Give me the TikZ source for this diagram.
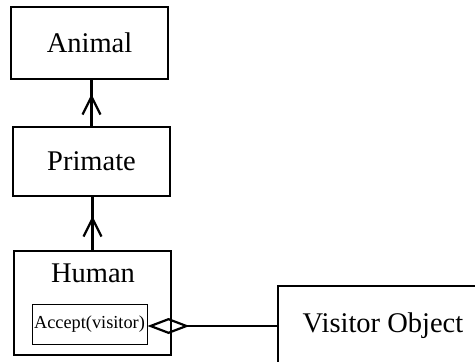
\documentclass[tikz,border=0pt]{standalone}
\usepackage{fontspec}
\setmainfont{Liberation Serif}
\usetikzlibrary{arrows.meta}
\begin{document}
\begin{tikzpicture}[x=1pt,y=1pt,
  cls/.style={draw, line width=2.2pt, inner sep=0pt, font=\fontsize{28.5}{33}\selectfont},
  meth/.style={draw, line width=1pt, inner sep=0pt, font=\fontsize{18.3}{21}\selectfont},
  lbl/.style={inner sep=0pt, font=\fontsize{28.5}{33}\selectfont},
  conn/.style={line width=2.2pt},
  inh/.style={line width=2.2pt, -{Straight Barb[length=18pt, width=18pt, line width=2.2pt]}},
  agg/.style={line width=2.2pt, -{Diamond[open, length=42pt, width=16pt, line width=2.2pt]}}]
\useasboundingbox (0,0) rectangle (475,-362);
\clip (0,0) rectangle (475,-362);
\node[cls, minimum width=157pt, minimum height=72pt] (animal) at (89.5,-43) {Animal};
\node[cls, minimum width=157pt, minimum height=69pt] (primate) at (91.5,-161.5) {Primate};
\node[cls, minimum width=157pt, minimum height=104pt] (human) at (92.5,-303) {};
\node[lbl, anchor=base] (humanlbl) at (93,-282) {Human};
\node[meth, minimum width=115pt, minimum height=40pt] (accept) at (89.5,-324) {Accept(visitor)};
\node[cls, minimum width=210pt, minimum height=80pt] (visitor) at (383,-326) {Visitor Object};
% Primate -> Animal
\draw[conn] (primate.north) -- (primate.north |- animal.south);
\draw[inh] (primate.north) -- ([yshift=-14pt]primate.north |- animal.south);
% Human -> Primate
\draw[conn] (human.north) -- (human.north |- primate.south);
\draw[inh] (human.north) -- ([yshift=-19pt]human.north |- primate.south);
% Visitor -> Accept (aggregation)
\draw[agg] (visitor.west) -- (visitor.west -| accept.east);
\end{tikzpicture}
\end{document}
